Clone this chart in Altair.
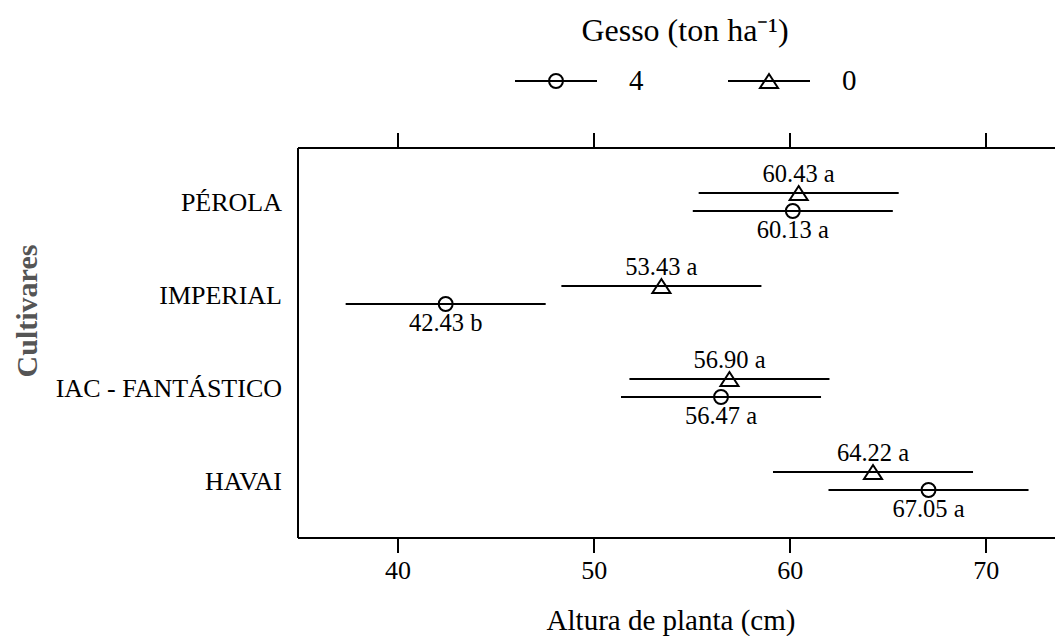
import altair as alt
import pandas as pd

# ---- data ----
cultivars = ["PÉROLA", "IMPERIAL", "IAC - FANTÁSTICO", "HAVAI"]
gesso_levels = ["4", "0"]
mean_g4 = [60.13, 42.43, 56.47, 67.05]
mean_g0 = [60.43, 53.43, 56.90, 64.22]
letter_g4 = ["a", "b", "a", "a"]
letter_g0 = ["a", "a", "a", "a"]
half_g4 = [5.1, 5.1, 5.1, 5.1]
half_g0 = [5.1, 5.1, 5.1, 5.1]
x_ticks = [40, 50, 60, 70]

rows = []
for i, c in enumerate(cultivars):
    rows.append(dict(cultivar=c, gesso="4", mean=mean_g4[i], half=half_g4[i], letter=letter_g4[i]))
    rows.append(dict(cultivar=c, gesso="0", mean=mean_g0[i], half=half_g0[i], letter=letter_g0[i]))
df = pd.DataFrame(rows)

FONT = "Liberation Serif"
LW = 2

# symbol paths: horizontal segment + marker (segment is hidden under the error bar in the plot)
circle_path = "M-1,0H1M-0.17,0A0.17,0.17 0 1,0 0.17,0A0.17,0.17 0 1,0 -0.17,0"
triangle_path = "M-1,0H1M0,-0.17L0.22,0.17L-0.22,0.17Z"

x_scale = alt.Scale(domain=[34.9, 73.5], nice=False, zero=False)

y_enc = alt.Y(
    "cultivar:N",
    sort=cultivars,
    scale=alt.Scale(paddingInner=0, paddingOuter=9 / 93),
    axis=alt.Axis(
        title="Cultivares",
        ticks=False,
        labelPadding=16,
        labelFontSize=26,
        labelFont=FONT,
        labelColor="black",
        labelLimit=1000,
        titleFont=FONT,
        titleFontSize=30,
        titleFontWeight="bold",
        titleColor="#555555",
        titleAngle=270,
        titleBaseline="alphabetic",
        titleAlign="center",
        titleX=-261,
        titleY=163,
        domainColor="black",
        domainWidth=LW,
        translate=0,
    ),
)
yoff_enc = alt.YOffset(
    "gesso:N",
    sort=["0", "4"],
    scale=alt.Scale(type="point", range=[36, 54], padding=0),
)

base = alt.Chart(df).transform_calculate(
    lo="datum.mean - datum.half",
    hi="datum.mean + datum.half",
    label="format(datum.mean, '.2f') + ' ' + datum.letter",
)

bottom_axis = alt.Axis(
    orient="bottom",
    values=x_ticks,
    title="Altura de planta (cm)",
    tickSize=15,
    tickWidth=LW,
    tickColor="black",
    labelPadding=5,
    labelFont=FONT,
    labelFontSize=26,
    labelColor="black",
    titleFont=FONT,
    titleFontSize=29,
    titleFontWeight="normal",
    titleColor="black",
    titlePadding=23,
    titleX=373,
    domainColor="black",
    domainWidth=LW,
    grid=False,
    translate=0,
)
top_axis = alt.Axis(
    orient="top",
    values=x_ticks,
    title=None,
    labels=False,
    tickSize=15,
    tickWidth=LW,
    tickColor="black",
    domainColor="black",
    domainWidth=LW,
    grid=False,
    translate=0,
)

rules = base.mark_rule(color="black", strokeWidth=LW).encode(
    x=alt.X("lo:Q", scale=x_scale, axis=top_axis),
    x2="hi:Q",
    y=y_enc,
    yOffset=yoff_enc,
)

points = base.mark_point(filled=False, color="black", strokeWidth=LW, size=6724, opacity=1).encode(
    x=alt.X("mean:Q", scale=x_scale, axis=bottom_axis),
    y=y_enc,
    yOffset=yoff_enc,
    shape=alt.Shape(
        "gesso:N",
        sort=gesso_levels,
        scale=alt.Scale(domain=gesso_levels, range=[circle_path, triangle_path]),
        legend=alt.Legend(
            title="Gesso (ton ha⁻¹)",
            orient="none",
            legendX=216,
            legendY=-132,
            direction="horizontal",
            titleAnchor="middle",
            titleFont=FONT,
            titleFontSize=32,
            titleFontWeight="normal",
            titleColor="black",
            titleLimit=1000,
            titlePadding=-9,
            labelFont=FONT,
            labelFontSize=29,
            labelColor="black",
            labelOffset=31,
            columnPadding=80,
            symbolSize=6724,
            symbolStrokeWidth=LW,
            symbolStrokeColor="black",
            padding=0,
        ),
    ),
)

text_top = base.transform_filter(alt.datum.gesso == "0").mark_text(
    font=FONT, fontSize=24.5, color="black", dy=-18, baseline="middle"
).encode(
    x=alt.X("mean:Q", scale=x_scale, axis=None),
    y=y_enc,
    yOffset=yoff_enc,
    text="label:N",
)
text_bot = base.transform_filter(alt.datum.gesso == "4").mark_text(
    font=FONT, fontSize=24.5, color="black", dy=20, baseline="middle"
).encode(
    x=alt.X("mean:Q", scale=x_scale, axis=None),
    y=y_enc,
    yOffset=yoff_enc,
    text="label:N",
)

chart = (
    alt.layer(rules, points, text_top, text_bot)
    .resolve_axis(x="independent")
    .properties(
        width=757,
        height=390,
        padding={"left": 290, "top": 140, "right": 0, "bottom": 98},
        autosize=alt.AutoSizeParams(type="none"),
    )
    .configure_view(stroke=None)
    .configure(background="white")
)

chart.save("out.html", embed_options={"renderer": "svg", "actions": False})
